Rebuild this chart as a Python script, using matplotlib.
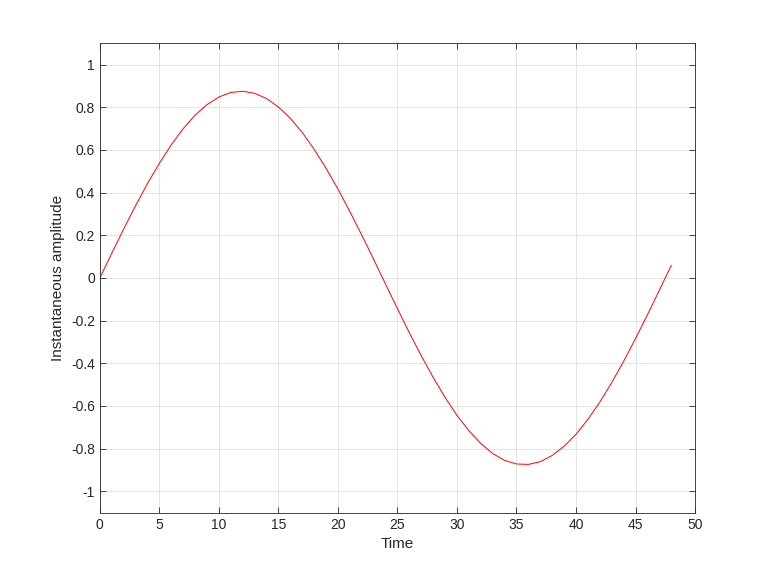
import numpy as np
from matplotlib import pyplot as plt

plt.rcParams['font.family'] = ['Liberation Sans', 'DejaVu Sans']

time = list(range(49))
amplitude = [0.000, 0.115, 0.229, 0.338, 0.442, 0.537, 0.624, 0.699, 0.763, 0.812,
             0.848, 0.869, 0.875, 0.865, 0.841, 0.801, 0.748, 0.682, 0.603, 0.514,
             0.417, 0.311, 0.201, 0.087, -0.029, -0.144, -0.257, -0.365, -0.466, -0.560,
             -0.644, -0.716, -0.776, -0.823, -0.855, -0.872, -0.874, -0.861, -0.832, -0.789,
             -0.733, -0.663, -0.582, -0.491, -0.391, -0.284, -0.173, -0.058, 0.058]

xticks = np.arange(0, 51, 5)
yticks = np.round(np.arange(-1, 1.01, 0.2), 1)

fig = plt.figure(figsize=(7.68, 5.76), dpi=100)
ax = fig.add_axes([0.13, 0.11, 0.775, 0.815])
ax.plot(time, amplitude, color='#ff0000', lw=0.7)

ax.set_xlim(0, 50)
ax.set_ylim(-1.1, 1.1)
ax.set_xticks(xticks)
ax.set_yticks(yticks)
ax.set_yticklabels(['%g' % v if v != 0 else '0' for v in yticks])
ax.grid(True, color='#e5e5e5', lw=0.7)
ax.set_axisbelow(True)
ax.tick_params(direction='in', top=True, right=True, length=4, width=0.6,
               color='#262626', labelsize=10, labelcolor='#262626')
for s in ax.spines.values():
    s.set_color('#262626')
    s.set_linewidth(0.6)
ax.set_xlabel('Time', fontsize=11, color='#262626')
ax.set_ylabel('Instantaneous amplitude', fontsize=11, color='#262626')

fig.savefig('out.png', dpi=100)
